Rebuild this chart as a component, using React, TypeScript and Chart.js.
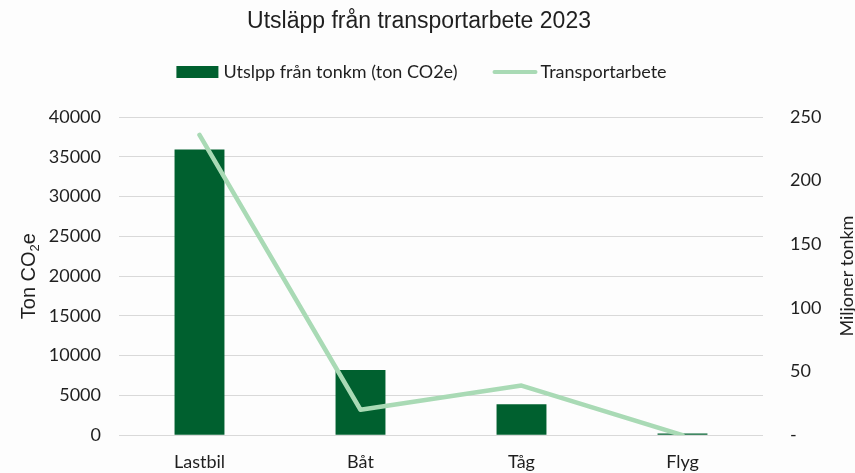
import React, { useEffect, useRef } from 'react';
import { Chart, registerables } from 'chart.js';

Chart.register(...registerables);

const chartTitle = 'Utsläpp från transportarbete 2023';
const categories = ['Lastbil', 'Båt', 'Tåg', 'Flyg'];
const emissions = [35900, 8200, 3900, 200];
const transportWork = [236, 20, 39, 0];
const seriesLabels = ['Utslpp från tonkm (ton CO2e)', 'Transportarbete'];
const leftAxisTitleParts = ['Ton CO', '2', 'e'];
const rightAxisTitle = 'Miljoner tonkm';
const leftAxisMax = 40000;
const leftAxisStep = 5000;
const rightAxisMax = 250;
const rightAxisStep = 50;

const BAR_COLOR = '#00602F';
const LINE_COLOR = '#A9DAB5';
const TEXT_COLOR = '#1f1f1f';
const GRID_COLOR = '#D9D9D9';
const TICK_FONT = { family: 'Lato, "Open Sans", sans-serif', size: 18 };

const decorPlugin = {
  id: 'decor',
  afterDraw(chart: any) {
    const ctx = chart.ctx as CanvasRenderingContext2D;
    const ca = chart.chartArea;
    const ds = chart.data.datasets;
    ctx.save();
    ctx.fillStyle = TEXT_COLOR;
    // Title
    ctx.font = '23px "Liberation Sans", Arial, sans-serif';
    ctx.textAlign = 'center';
    ctx.textBaseline = 'middle';
    ctx.fillText(chartTitle, 419, 22);

    // Legend
    ctx.font = `${TICK_FONT.size}px ${TICK_FONT.family}`;
    const w1 = ctx.measureText(ds[0].label).width;
    const w2 = ctx.measureText(ds[1].label).width;
    const total = 42 + 5 + w1 + 35 + 45 + 3 + w2;
    let x = 421.5 - total / 2;
    const ly = 72;
    ctx.fillStyle = ds[0].backgroundColor;
    ctx.fillRect(x, ly - 6, 42, 12);
    x += 47;
    ctx.fillStyle = TEXT_COLOR;
    ctx.textAlign = 'left';
    ctx.fillText(ds[0].label, x, ly);
    x += w1 + 35;
    ctx.strokeStyle = ds[1].borderColor;
    ctx.lineWidth = 4;
    ctx.lineCap = 'round';
    ctx.beginPath();
    ctx.moveTo(x + 2, ly);
    ctx.lineTo(x + 43, ly);
    ctx.stroke();
    x += 48;
    ctx.fillText(ds[1].label, x, ly);

    // Left axis title
    const cy = (ca.top + ca.bottom) / 2;
    ctx.save();
    ctx.translate(28, cy);
    ctx.rotate(-Math.PI / 2);
    const bigFont = '20px "Liberation Sans", Arial, sans-serif';
    const smallFont = '13px "Liberation Sans", Arial, sans-serif';
    ctx.font = bigFont;
    const a = ctx.measureText(leftAxisTitleParts[0]).width;
    const c = ctx.measureText(leftAxisTitleParts[2]).width;
    ctx.font = smallFont;
    const b = ctx.measureText(leftAxisTitleParts[1]).width;
    let tx = -(a + b + c) / 2;
    ctx.textAlign = 'left';
    ctx.textBaseline = 'alphabetic';
    ctx.font = bigFont;
    ctx.fillText(leftAxisTitleParts[0], tx, 7);
    tx += a;
    ctx.font = smallFont;
    ctx.fillText(leftAxisTitleParts[1], tx, 11);
    tx += b;
    ctx.font = bigFont;
    ctx.fillText(leftAxisTitleParts[2], tx, 7);
    ctx.restore();

    // Right axis title
    ctx.save();
    ctx.translate(847, cy);
    ctx.rotate(-Math.PI / 2);
    ctx.font = `${TICK_FONT.size}px ${TICK_FONT.family}`;
    ctx.textAlign = 'center';
    ctx.textBaseline = 'middle';
    ctx.fillText(rightAxisTitle, 0, 0);
    ctx.restore();

    ctx.restore();
  },
};

export default function App() {
  const canvasRef = useRef<HTMLCanvasElement | null>(null);

  useEffect(() => {
    const canvas = canvasRef.current;
    if (!canvas) return;
    const chart = new Chart(canvas, {
      type: 'bar',
      data: {
        labels: categories,
        datasets: [
          {
            type: 'bar',
            label: seriesLabels[0],
            data: emissions,
            backgroundColor: BAR_COLOR,
            yAxisID: 'y',
            order: 1,
            barPercentage: 0.31,
            categoryPercentage: 1,
          },
          {
            type: 'line',
            label: seriesLabels[1],
            data: transportWork,
            borderColor: LINE_COLOR,
            backgroundColor: LINE_COLOR,
            borderWidth: 4.5,
            pointRadius: 0,
            yAxisID: 'y1',
            order: 0,
            borderCapStyle: 'round',
            borderJoinStyle: 'round',
            tension: 0,
          },
        ],
      } as any,
      options: {
        animation: false,
        responsive: false,
        layout: { padding: { top: 117, left: 0, right: 0, bottom: 0 } },
        plugins: {
          legend: { display: false },
          title: { display: false },
          tooltip: { enabled: false },
        },
        scales: {
          x: {
            grid: { display: false, drawTicks: false },
            border: { display: false },
            ticks: { font: TICK_FONT, color: TEXT_COLOR, padding: 16 },
            afterFit: (s: any) => {
              s.height = 36;
            },
          },
          y: {
            position: 'left',
            min: 0,
            max: leftAxisMax,
            ticks: {
              stepSize: leftAxisStep,
              font: TICK_FONT,
              color: TEXT_COLOR,
              padding: 18,
              callback: (v: any) => String(v),
            },
            grid: { color: GRID_COLOR, drawTicks: false, lineWidth: 1 },
            border: { display: false },
            afterFit: (s: any) => {
              s.width = 119;
            },
          },
          y1: {
            position: 'right',
            min: 0,
            max: rightAxisMax,
            ticks: {
              stepSize: rightAxisStep,
              font: TICK_FONT,
              color: TEXT_COLOR,
              padding: 27,
              callback: (v: any) => (Number(v) === 0 ? '-' : String(v)),
            },
            grid: { display: false, drawTicks: false },
            border: { display: false },
            afterFit: (s: any) => {
              s.width = 92;
            },
          },
        },
      } as any,
      plugins: [decorPlugin],
    });
    return () => chart.destroy();
  }, []);

  return (
    <div style={{ position: 'absolute', left: 0, top: 0, width: 855, height: 473, background: '#fdfdfd' }}>
      <canvas ref={canvasRef} width={855} height={473} style={{ display: 'block' }} />
    </div>
  );
}
